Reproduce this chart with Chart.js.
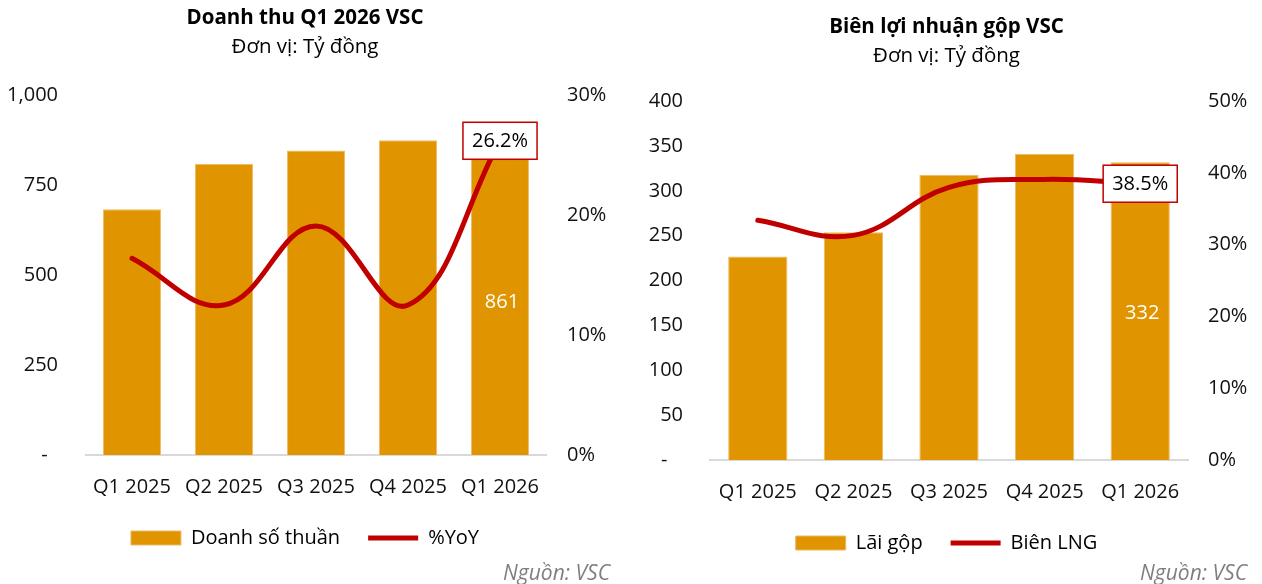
<!DOCTYPE html>
<html>
<head>
<meta charset="utf-8">
<script src="https://cdn.jsdelivr.net/npm/chart.js@4.4.1/dist/chart.umd.min.js"></script>
<style>
  body { margin: 0; background: #fff; width: 1262px; height: 584px; position: relative; overflow: hidden; font-family: "Open Sans", sans-serif; }
  .box { position: absolute; top: 0; height: 584px; }
  .src { position: absolute; top: 558px; font-style: italic; color: #7f7f7f; font-size: 21px; line-height: 28px; }
</style>
</head>
<body>
<div class="box" style="left:0;width:610px"><canvas id="chartRevenue"></canvas></div>
<div class="box" style="left:631px;width:631px"><canvas id="chartMargin"></canvas></div>
<div class="src" style="right:652px">Nguồn: VSC</div>
<div class="src" style="right:15px">Nguồn: VSC</div>
<script>
var quarters = ["Q1 2025", "Q2 2025", "Q3 2025", "Q4 2025", "Q1 2026"];

// Doanh thu (ty dong) va %YoY
var revenue = [683, 809, 846, 875, 861];
var revenueYoY = [16.4, 12.5, 19.1, 12.5, 26.2];
var revenueTicks = [0, 250, 500, 750, 1000];
var yoyTicks = [0, 10, 20, 30];

// Lai gop (ty dong) va bien LNG (%)
var grossProfit = [227, 254, 318, 341, 332];
var grossMargin = [33.4, 31.3, 38.0, 39.1, 38.5];
var profitTicks = [0, 50, 100, 150, 200, 250, 300, 350, 400];
var marginTicks = [0, 10, 20, 30, 40, 50];

var FONT = '"Open Sans", sans-serif';
var BAR_COLOR = '#E09400';
var LINE_COLOR = '#C00000';

Chart.defaults.font.family = FONT;
Chart.defaults.color = '#111';
Chart.defaults.animation = false;

// label for last bar (white, centred) and last point (boxed)
var lastLabels = {
    id: 'lastLabels',
    afterDatasetsDraw: function (chart) {
        var ctx = chart.ctx;
        var last = chart.data.labels.length - 1;
        var bar = chart.getDatasetMeta(0).data[last];
        var pt = chart.getDatasetMeta(1).data[last];
        ctx.save();
        ctx.font = '20px ' + FONT;
        ctx.textAlign = 'center';
        ctx.textBaseline = 'middle';
        ctx.fillStyle = '#fff';
        ctx.fillText(chart.data.datasets[0].data[last], bar.x + 2, (bar.y + bar.base) / 2 + 2);

        var txt = chart.data.datasets[1].data[last].toFixed(1) + '%';
        var w = ctx.measureText(txt).width + 18, h = 37;
        ctx.fillStyle = '#fff';
        ctx.fillRect(pt.x - w / 2, pt.y - h / 2, w, h);
        ctx.strokeStyle = LINE_COLOR;
        ctx.lineWidth = 1.5;
        ctx.strokeRect(pt.x - w / 2, pt.y - h / 2, w, h);
        ctx.fillStyle = '#000';
        ctx.fillText(txt, pt.x, pt.y + 1);
        ctx.restore();
    }
};

function setTicks(list) {
    return function (scale) {
        scale.ticks = list.map(function (v) { return { value: v }; });
    };
}

function makeChart(id, cfg) {
    var ctx = document.getElementById(id);
    return new Chart(ctx, {
        type: 'bar',
        data: {
            labels: quarters,
            datasets: [{
                type: 'bar',
                label: cfg.barLabel,
                data: cfg.barData,
                backgroundColor: BAR_COLOR,
                borderColor: '#EDBB62',
                borderWidth: 1,
                barPercentage: cfg.barPct,
                categoryPercentage: 1,
                pointStyle: 'rect',
                yAxisID: 'y',
                order: 1
            }, {
                type: 'line',
                label: cfg.lineLabel,
                data: cfg.lineData,
                borderColor: LINE_COLOR,
                backgroundColor: LINE_COLOR,
                borderWidth: 5,
                borderCapStyle: 'round',
                tension: 0.4,
                pointRadius: 0,
                pointStyle: 'line',
                yAxisID: 'y1',
                order: 0
            }]
        },
        options: {
            responsive: true,
            maintainAspectRatio: false,
            layout: { padding: { left: 0, right: 0, top: 0, bottom: cfg.padBottom } },
            plugins: {
                title: {
                    display: true,
                    text: cfg.title,
                    color: '#000',
                    font: { size: 20.5, weight: 'bold' },
                    padding: { top: cfg.titleTop, bottom: 0 }
                },
                subtitle: {
                    display: true,
                    text: 'Đơn vị: Tỷ đồng',
                    color: '#000',
                    font: { size: 20.5 },
                    padding: { top: 4, bottom: cfg.subBottom }
                },
                legend: {
                    position: 'bottom',
                    labels: {
                        usePointStyle: true,
                        pointStyleWidth: 50,
                        boxHeight: 14,
                        padding: 28,
                        color: '#000',
                        font: { size: 20 },
                        sort: function (a, b) { return a.datasetIndex - b.datasetIndex; }
                    }
                },
                tooltip: { enabled: false }
            },
            scales: {
                x: {
                    grid: { display: false, drawTicks: false },
                    border: { display: true, color: '#D9D9D9', width: 2 },
                    ticks: { color: '#111', font: { size: 20 }, padding: 20, maxRotation: 0 },
                    afterFit: function (s) { s.height = cfg.xHeight; }
                },
                y: {
                    position: 'left',
                    min: 0,
                    max: cfg.leftTicks[cfg.leftTicks.length - 1],
                    grid: { display: false, drawTicks: false },
                    border: { display: false },
                    afterBuildTicks: setTicks(cfg.leftTicks),
                    ticks: {
                        color: '#111',
                        font: { size: 20 },
                        padding: cfg.leftPad,
                        callback: function (v) { return v === 0 ? cfg.zeroLabel : v.toLocaleString('en-US'); }
                    },
                    afterFit: function (s) { s.width = cfg.leftWidth; }
                },
                y1: {
                    position: 'right',
                    min: 0,
                    max: cfg.rightTicks[cfg.rightTicks.length - 1],
                    grid: { display: false, drawTicks: false },
                    border: { display: false },
                    afterBuildTicks: setTicks(cfg.rightTicks),
                    ticks: {
                        color: '#111',
                        font: { size: 20 },
                        padding: cfg.rightPad,
                        callback: function (v) { return v + '%'; }
                    },
                    afterFit: function (s) { s.width = cfg.rightWidth; }
                }
            }
        },
        plugins: [lastLabels]
    });
}

makeChart('chartRevenue', {
    title: 'Doanh thu Q1 2026 VSC',
    barLabel: 'Doanh số thuần',
    barData: revenue,
    lineLabel: '%YoY',
    lineData: revenueYoY,
    leftTicks: revenueTicks,
    rightTicks: yoyTicks,
    zeroLabel: '-  ',
    barPct: 0.63,
    titleTop: 6,
    subBottom: 36,
    padBottom: 26,
    xHeight: 45,
    leftWidth: 86,
    leftPad: 28,
    rightWidth: 64,
    rightPad: 21
});

makeChart('chartMargin', {
    title: 'Biên lợi nhuận gộp VSC',
    barLabel: 'Lãi gộp',
    barData: grossProfit,
    lineLabel: 'Biên LNG',
    lineData: grossMargin,
    leftTicks: profitTicks,
    rightTicks: marginTicks,
    zeroLabel: '-   ',
    barPct: 0.62,
    titleTop: 15,
    subBottom: 33,
    padBottom: 21,
    xHeight: 45,
    leftWidth: 79,
    leftPad: 27,
    rightWidth: 74,
    rightPad: 20
});
</script>
</body>
</html>
